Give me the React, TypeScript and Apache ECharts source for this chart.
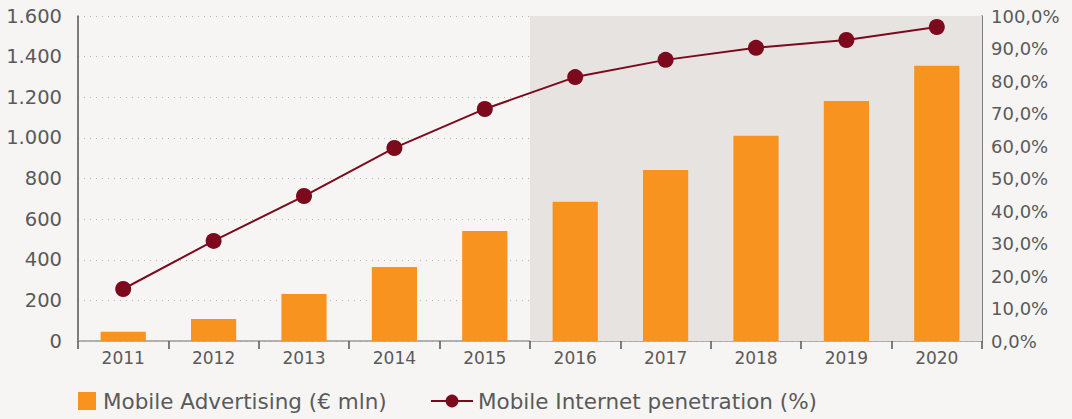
import React, { useEffect, useRef } from "react";
import * as echarts from "echarts";

const years = ["2011", "2012", "2013", "2014", "2015", "2016", "2017", "2018", "2019", "2020"];
const advertising = [45, 108, 231, 364, 542, 685, 842, 1010, 1182, 1355];
const penetration = [16.0, 30.8, 44.6, 59.4, 71.4, 81.2, 86.5, 90.2, 92.6, 96.6];
const shadedFromIndex = 5; // forecast area starts at 2016
const barName = "Mobile Advertising (€ mln)";
const lineName = "Mobile Internet penetration (%)";

const TEXT = "#5a5a5a";
const FONT = "'DejaVu Sans', Verdana, sans-serif";

export default function App() {
  const ref = useRef<HTMLDivElement>(null);
  useEffect(() => {
    document.body.style.margin = "0";
    document.body.style.background = "#f6f5f3";
    const chart = echarts.init(ref.current!, null, { renderer: "svg" });
    chart.setOption({
      animation: false,
      backgroundColor: "#f6f5f3",
      textStyle: { fontFamily: FONT },
      grid: { left: 78, right: 90, top: 16, bottom: 78, containLabel: false },
      legend: [
        {
          data: [{ name: barName, icon: "rect" }],
          left: 78,
          top: 390,
          padding: 0,
          itemWidth: 18,
          itemHeight: 18,
          itemGap: 7,
          textStyle: { color: TEXT, fontSize: 21.5, fontFamily: FONT, padding: [0, 0, 0, 2] },
        },
        {
          data: [{ name: lineName }],
          left: 430,
          top: 390,
          padding: 0,
          itemWidth: 42,
          itemHeight: 16,
          textStyle: { color: TEXT, fontSize: 21.5, fontFamily: FONT },
        },
      ],
      xAxis: [
        {
          type: "category",
          data: years,
          boundaryGap: true,
          axisLine: { show: true, lineStyle: { color: "#9a9a9a", width: 1.5 } },
          axisTick: { show: true, length: 8, lineStyle: { color: "#555", width: 1.5 } },
          axisLabel: { color: TEXT, fontSize: 17, margin: 8, fontFamily: FONT },
        },
        {
          type: "value",
          min: 0,
          max: years.length,
          show: false,
        },
      ],
      yAxis: [
        {
          type: "value",
          min: 0,
          max: 1600,
          interval: 200,
          axisLine: { show: true, lineStyle: { color: "#555", width: 1.5 } },
          axisTick: { show: false },
          axisLabel: {
            color: TEXT,
            fontSize: 19.5,
            margin: 16,
            fontFamily: FONT,
            formatter: (v: number) => String(v).replace(/\B(?=(\d{3})+(?!\d))/g, "."),
          },
          splitLine: { show: true, lineStyle: { color: "#b5b5b5", type: [1, 5], width: 1 } },
        },
        {
          type: "value",
          min: 0,
          max: 100,
          interval: 10,
          position: "right",
          axisLine: { show: true, lineStyle: { color: "#555", width: 1.5 } },
          axisTick: { show: false },
          axisLabel: {
            color: TEXT,
            fontSize: 18,
            margin: 9,
            fontFamily: FONT,
            formatter: (v: number) => v.toFixed(1).replace(".", ",") + "%",
          },
          splitLine: { show: false },
        },
      ],
      series: [
        {
          name: "shade",
          type: "line",
          xAxisIndex: 1,
          yAxisIndex: 0,
          data: [],
          silent: true,
          markArea: {
            silent: true,
            itemStyle: { color: "#e7e3e0" },
            data: [[{ xAxis: shadedFromIndex }, { xAxis: years.length }]],
          },
        },
        {
          name: barName,
          type: "bar",
          data: advertising,
          barWidth: "50%",
          itemStyle: { color: "#f7931e" },
          z: 3,
        },
        {
          name: lineName,
          type: "line",
          yAxisIndex: 1,
          data: penetration,
          symbol: "circle",
          symbolSize: 16,
          lineStyle: { color: "#7c0a1c", width: 2 },
          itemStyle: { color: "#7c0a1c" },
          z: 4,
        },
      ],
    });
    return () => chart.dispose();
  }, []);
  return <div ref={ref} style={{ width: 1072, height: 419 }} />;
}
